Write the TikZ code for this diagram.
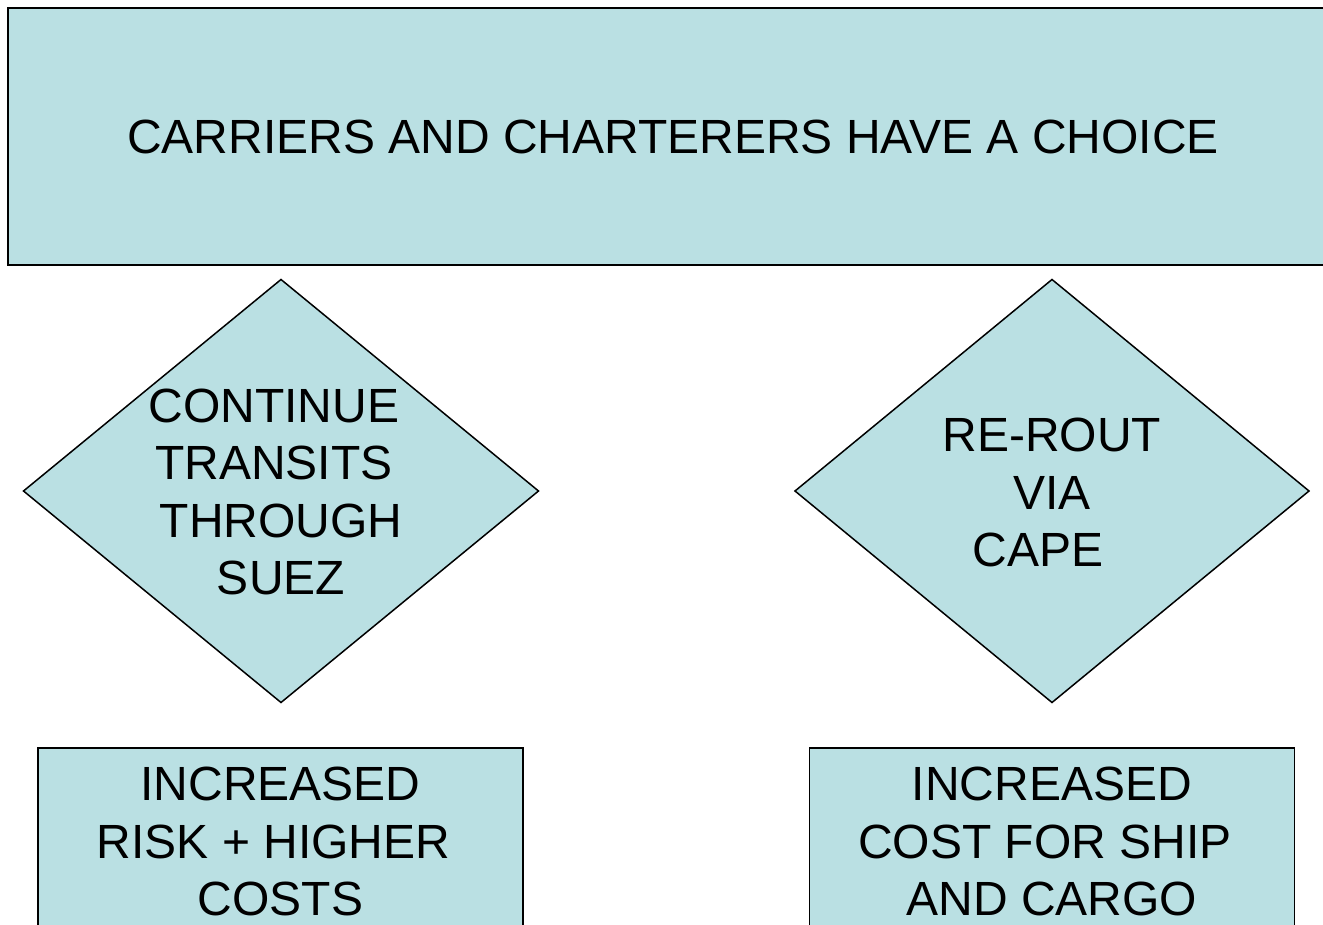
\documentclass[tikz,border=0pt]{standalone}
\usepackage{fontspec}
\setmainfont{Liberation Sans}
\usetikzlibrary{shapes.geometric}
\definecolor{boxfill}{RGB}{186,224,227}
\newcommand\tsp[1]{\hbox to #1{}}
\tikzset{
  shapebox/.style={draw=black, line width=1.5pt, fill=boxfill, inner sep=0pt, outer sep=0pt},
  txt/.style={align=center, inner sep=0pt, font=\fontsize{48}{57.5}\selectfont}
}
\begin{document}
\begin{tikzpicture}[x=1pt,y=-1pt]
\useasboundingbox (0,0) rectangle (1323,925);
\node[shapebox, rectangle, minimum width=1330pt, minimum height=257pt, line width=2pt] (top) at (673,136.5) {};
\node[txt] (toptxt) at (top.center) {CARRIERS AND CHARTERERS HAVE A CHOICE};
\node[shapebox, diamond, minimum width=515pt, minimum height=423pt] (d1) at (281,491) {};
\node[txt] (d1txt) at (281,492) {CONTINUE\tsp{14pt}\\TRANSITS\tsp{14pt}\\THROUGH\\SUEZ};
\node[shapebox, diamond, minimum width=514pt, minimum height=423pt] (d2) at (1052,491) {};
\node[txt] (d2txt) at (1052,492.5) {RE-ROUT\\VIA\\CAPE\tsp{28pt}};
\node[shapebox, rectangle, minimum width=485pt, minimum height=260pt] (b1) at (280.5,878) {};
\node[txt] (b1txt) at (280.5,841.5) {INCREASED\\RISK + HIGHER\tsp{14pt}\\COSTS};
\node[shapebox, rectangle, minimum width=485pt, minimum height=260pt] (b2) at (1052,878) {};
\node[txt] (b2txt) at (1052,841.5) {INCREASED\\COST FOR SHIP\tsp{14pt}\\AND CARGO};
\end{tikzpicture}
\end{document}
